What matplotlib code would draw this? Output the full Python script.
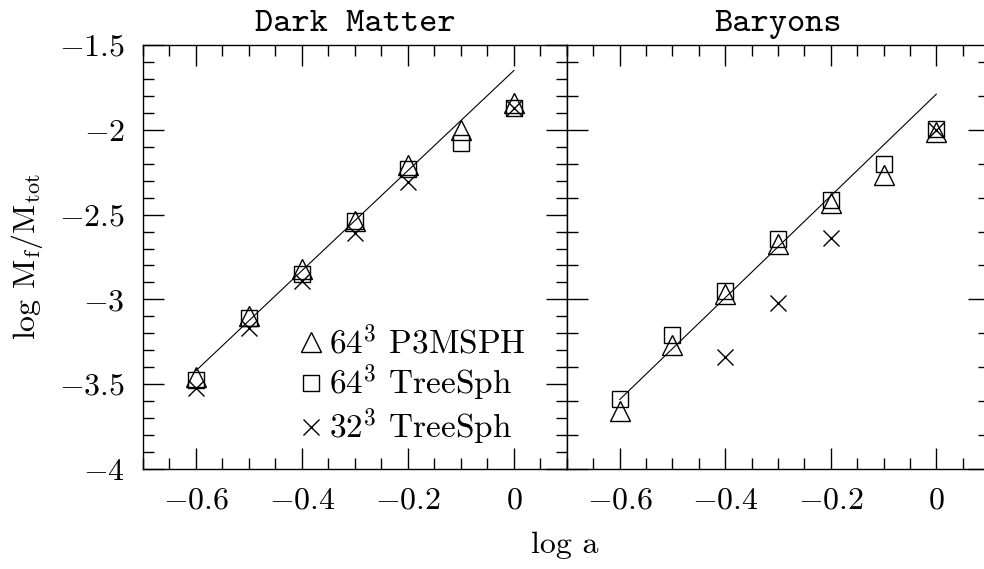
import matplotlib
matplotlib.use('Agg')
import matplotlib.pyplot as plt
from matplotlib.ticker import MultipleLocator, FuncFormatter

# log a 값 (공통)
log_a = [-0.6, -0.5, -0.4, -0.3, -0.2, -0.1, 0.0]

# Dark Matter 패널
dm_p3msph_64 = [-3.46, -3.10, -2.82, -2.54, -2.21, -2.00, -1.84]
dm_treesph_64 = [-3.475, -3.11, -2.85, -2.54, -2.23, -2.08, -1.87]
dm_treesph_32_x = [-0.6, -0.5, -0.4, -0.3, -0.2, 0.0]
dm_treesph_32 = [-3.52, -3.17, -2.89, -2.61, -2.31, -1.87]
dm_fit_x = [-0.6, 0.0]
dm_fit_y = [-3.42, -1.65]

# Baryons 패널
bar_p3msph_64 = [-3.66, -3.27, -2.97, -2.675, -2.434, -2.265, -2.015]
bar_treesph_64 = [-3.59, -3.21, -2.95, -2.644, -2.414, -2.204, -1.997]
bar_treesph_32_x = [-0.4, -0.3, -0.2, 0.0]
bar_treesph_32 = [-3.34, -3.02, -2.636, -2.00]
bar_fit_x = [-0.6, 0.0]
bar_fit_y = [-3.59, -1.79]

labels = [r'$64^3$ P3MSPH', r'$64^3$ TreeSph', r'$32^3$ TreeSph']
titles = ['Dark Matter', 'Baryons']

plt.rcParams['font.family'] = 'serif'
plt.rcParams['font.serif'] = ['cmr10']
plt.rcParams['mathtext.fontset'] = 'cm'
plt.rcParams['axes.formatter.use_mathtext'] = True

FS = 23


def fmt(v, pos):
    v = round(v, 6) + 0.0
    return r'$%g$' % v


def style_axes(ax, y_major, y_minor, show_ylabels):
    ax.set_xlim(-0.7, 0.1)
    ax.set_ylim(-4, -1.5)
    ax.xaxis.set_major_locator(MultipleLocator(0.2))
    ax.xaxis.set_minor_locator(MultipleLocator(0.05))
    ax.yaxis.set_major_locator(MultipleLocator(y_major))
    ax.yaxis.set_minor_locator(MultipleLocator(y_minor))
    ax.xaxis.set_major_formatter(FuncFormatter(fmt))
    ax.yaxis.set_major_formatter(FuncFormatter(fmt))
    ax.tick_params(which='both', direction='in', top=True, right=True,
                   width=1, labelsize=FS, pad=13)
    ax.tick_params(which='major', length=15)
    ax.tick_params(which='minor', length=8)
    if not show_ylabels:
        ax.tick_params(labelleft=False)
    for s in ax.spines.values():
        s.set_linewidth(1.0)


fig = plt.figure(figsize=(9.84, 5.69), dpi=100)
ax1 = fig.add_axes([0.1453, 0.1757, 0.4309, 0.7452])
ax2 = fig.add_axes([0.5762, 0.1757, 0.4289, 0.7452])

mk = dict(ls='none', mfc='none', mec='black', mew=1.0)

# 왼쪽: Dark Matter
ax1.plot(dm_fit_x, dm_fit_y, color='black', lw=0.8)
h1, = ax1.plot(log_a, dm_p3msph_64, marker='^', ms=14, **mk)
h2, = ax1.plot(log_a, dm_treesph_64, marker='s', ms=12, **mk)
h3, = ax1.plot(dm_treesph_32_x, dm_treesph_32, marker='x', ms=12,
               ls='none', color='black', mew=1.0)
style_axes(ax1, 0.5, 0.1, True)
ax1.set_title(titles[0], family='cmtt10', fontsize=25, pad=10)
ax1.set_ylabel(r'log M$_{\rm f}$/M$_{\rm tot}$', fontsize=FS, labelpad=10)
ax1.legend([h1, h2, h3], labels, loc='lower left',
           bbox_to_anchor=(0.365, 0.051), frameon=False, fontsize=24,
           numpoints=1, handlelength=0.8, handletextpad=0.15,
           labelspacing=0.1, borderpad=0, borderaxespad=0)

# 오른쪽: Baryons
ax2.plot(bar_fit_x, bar_fit_y, color='black', lw=0.8)
ax2.plot(log_a, bar_p3msph_64, marker='^', ms=14, **mk)
ax2.plot(log_a, bar_treesph_64, marker='s', ms=12, **mk)
ax2.plot(bar_treesph_32_x, bar_treesph_32, marker='x', ms=12,
         ls='none', color='black', mew=1.0)
style_axes(ax2, 1.0, 0.2, False)
ax2.set_title(titles[1], family='cmtt10', fontsize=25, pad=10)

fig.text(0.574, 0.028, 'log a', ha='center', va='baseline', fontsize=FS)

fig.savefig('out.png', dpi=100)
